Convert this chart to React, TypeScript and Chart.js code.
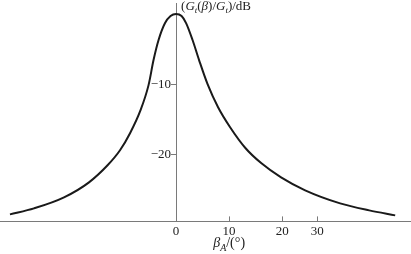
import React, { useEffect, useRef } from 'react';
import { Chart, registerables } from 'chart.js';

Chart.register(...registerables);

// Beam angle β_A (degrees) and relative gain (dB)
const angles = [
  -31.32, -26.79, -21.13, -16.42, -12.92, -10.57, -8.68, -6.7, -5.19, -4.25, -3.3, -2.08, -1.04, 0,
  1.04, 1.89, 3.11, 4.34, 5.94, 7.92, 10.19, 13.11, 16.1, 19.8, 24.34, 30.94, 36.42, 41.32,
];
const gains = [
  -28.57, -27.71, -26.14, -24.0, -21.57, -19.43, -17.0, -13.71, -10.14, -6.57, -3.71, -1.29, -0.29, 0,
  -0.29, -1.29, -3.71, -6.57, -10.0, -13.29, -16.14, -19.14, -21.29, -23.29, -25.14, -27.0, -28.0, -28.71,
];

const xTickValues = [0, 10, 20, 26.6];
const xTickLabels = ['0', '10', '20', '30'];
const yTickValues = [-10, -20];
const yTickLabels = ['\u221210', '\u221220'];

const SERIF = '"Liberation Serif", "Times New Roman", serif';
const AXIS_COLOR = '#7a7a7a';
const TEXT_COLOR = '#222';

type Run = { t: string; italic?: boolean; sub?: boolean };

function drawRuns(ctx: CanvasRenderingContext2D, runs: Run[], x: number, y: number, size: number) {
  let cx = x;
  for (const r of runs) {
    const fs = r.sub ? Math.round(size * 0.7) : size;
    ctx.font = `${r.italic ? 'italic ' : ''}${fs}px ${SERIF}`;
    ctx.fillText(r.t, cx, r.sub ? y + size * 0.25 : y);
    cx += ctx.measureText(r.t).width;
  }
  return cx - x;
}

function measureRuns(ctx: CanvasRenderingContext2D, runs: Run[], size: number) {
  let w = 0;
  for (const r of runs) {
    const fs = r.sub ? Math.round(size * 0.7) : size;
    ctx.font = `${r.italic ? 'italic ' : ''}${fs}px ${SERIF}`;
    w += ctx.measureText(r.t).width;
  }
  return w;
}

const yTitle: Run[] = [
  { t: '(' },
  { t: 'G', italic: true },
  { t: 't', italic: true, sub: true },
  { t: '(' },
  { t: 'β', italic: true },
  { t: ')/' },
  { t: 'G', italic: true },
  { t: 't', italic: true, sub: true },
  { t: ')/dB' },
];
const xTitle: Run[] = [
  { t: 'β', italic: true },
  { t: 'A', italic: true, sub: true },
  { t: '/(°)' },
];

const decorPlugin = {
  id: 'decor',
  afterDraw(chart: any) {
    const ctx = chart.ctx as CanvasRenderingContext2D;
    const xs = chart.scales.x;
    const ys = chart.scales.y;
    const area = chart.chartArea;
    ctx.save();
    // upward tick marks on the x axis
    ctx.strokeStyle = AXIS_COLOR;
    ctx.lineWidth = 1;
    for (const t of xs.ticks) {
      if (t.value === 0) continue;
      const px = Math.round(xs.getPixelForValue(t.value)) + 0.5;
      ctx.beginPath();
      ctx.moveTo(px, area.bottom);
      ctx.lineTo(px, area.bottom - 5);
      ctx.stroke();
    }
    const y0 = xs.getPixelForValue(0);
    // y tick labels, left of the centred axis
    ctx.fillStyle = TEXT_COLOR;
    ctx.font = `13px ${SERIF}`;
    ctx.textAlign = 'right';
    ctx.textBaseline = 'middle';
    yTickValues.forEach((v, i) => {
      ctx.fillText(yTickLabels[i], y0 - 5, ys.getPixelForValue(v) + 0.5);
    });
    // axis titles
    ctx.textBaseline = 'alphabetic';
    ctx.textAlign = 'left';
    drawRuns(ctx, yTitle, y0 + 5, ys.top + 7, 13);
    const w = measureRuns(ctx, xTitle, 14);
    const cx = xs.getPixelForValue(10);
    drawRuns(ctx, xTitle, cx - w / 2, 247, 14);
    ctx.restore();
  },
};

export default function App() {
  const ref = useRef<HTMLCanvasElement | null>(null);
  useEffect(() => {
    if (!ref.current) return;
    const chart = new Chart(ref.current, {
      type: 'line',
      data: {
        datasets: [
          {
            data: angles.map((a, i) => ({ x: a, y: gains[i] })),
            borderColor: '#1a1a1a',
            borderWidth: 2,
            pointRadius: 0,
            cubicInterpolationMode: 'monotone',
            fill: false,
          },
        ],
      },
      options: {
        animation: false,
        responsive: true,
        maintainAspectRatio: false,
        layout: { padding: { top: 3, left: 0, right: 0, bottom: 13 } },
        plugins: { legend: { display: false }, tooltip: { enabled: false } },
        scales: {
          x: {
            type: 'linear',
            min: -33.2,
            max: 44.3,
            afterBuildTicks: (s: any) => {
              s.ticks = xTickValues.map((v) => ({ value: v }));
            },
            grid: { display: false, drawTicks: false },
            border: { display: true, color: AXIS_COLOR, width: 1 },
            ticks: {
              padding: 2,
              color: TEXT_COLOR,
              font: { family: SERIF, size: 13 },
              maxRotation: 0,
              autoSkip: false,
              callback: (_v: any, i: number) => xTickLabels[i],
            },
          },
          y: {
            type: 'linear',
            position: { x: 0 } as any,
            min: -29.57,
            max: 1.57,
            afterBuildTicks: (s: any) => {
              s.ticks = yTickValues.map((v) => ({ value: v }));
            },
            grid: { display: true, drawOnChartArea: false, drawTicks: true, tickLength: 5, color: AXIS_COLOR },
            border: { display: true, color: AXIS_COLOR, width: 1 },
            ticks: { display: false },
          },
        },
      },
      plugins: [decorPlugin],
    });
    return () => chart.destroy();
  }, []);
  return (
    <div style={{ position: 'absolute', left: 0, top: 0, width: 411, height: 254 }}>
      <canvas ref={ref} />
    </div>
  );
}
